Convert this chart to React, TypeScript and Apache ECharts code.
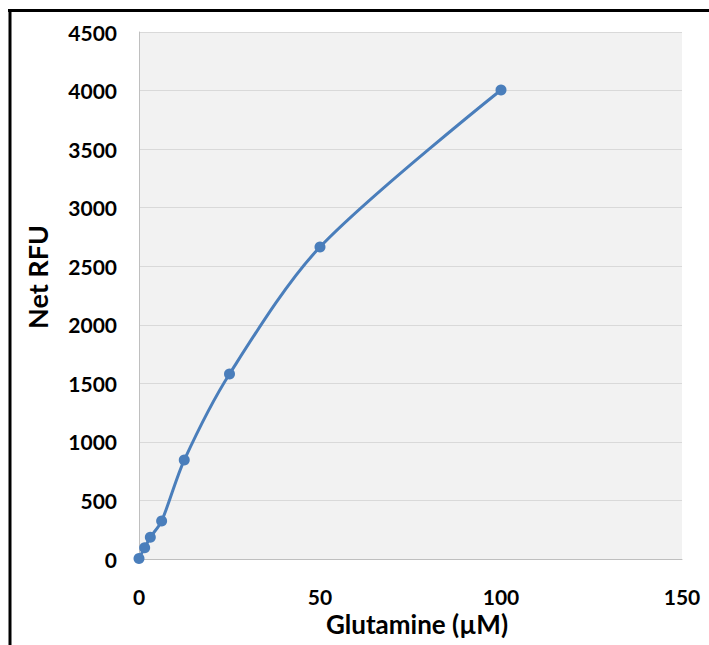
import React, { useEffect, useRef } from "react";
import * as echarts from "echarts";

const concentrations: number[] = [0, 1.5625, 3.125, 6.25, 12.5, 25, 50, 100];
const netRFU: number[] = [5, 96, 185, 324, 845, 1580, 2664, 4005];
const xTitle = "Glutamine (µM)";
const yTitle = "Net RFU";

export default function App() {
  const ref = useRef<HTMLDivElement>(null);
  useEffect(() => {
    if (!ref.current) return;
    const chart = echarts.init(ref.current, null, { renderer: "svg" });
    const font = "Lato, 'DejaVu Sans', sans-serif";
    chart.setOption({
      animation: false,
      backgroundColor: "#ffffff",
      grid: {
        left: 139,
        top: 32,
        right: 27,
        bottom: 86,
        show: true,
        backgroundColor: "#f2f2f2",
        borderWidth: 0,
      },
      xAxis: {
        type: "value",
        min: 0,
        max: 150,
        interval: 50,
        axisLine: { show: true, onZero: false, lineStyle: { color: "#bfbfbf", width: 1 } },
        axisTick: { show: false },
        splitLine: { show: false },
        axisLabel: {
          margin: 27,
          color: "#000",
          fontFamily: font,
          fontWeight: "bold",
          fontSize: 21,
          formatter: (v: number) => String(v),
        },
      },
      yAxis: {
        type: "value",
        min: 0,
        max: 4500,
        interval: 500,
        axisLine: { show: true, lineStyle: { color: "#bfbfbf", width: 1 } },
        axisTick: { show: false },
        splitLine: { show: true, lineStyle: { color: "#d9d9d9", width: 1 } },
        axisLabel: {
          margin: 22,
          color: "#000",
          fontFamily: font,
          fontWeight: "bold",
          fontSize: 21,
          formatter: (v: number) => String(v),
        },
      },
      graphic: [
        {
          type: "line",
          shape: { x1: 8, y1: 10.5, x2: 709, y2: 10.5 },
          style: { stroke: "#000", lineWidth: 3 },
        },
        {
          type: "line",
          shape: { x1: 10, y1: 9, x2: 10, y2: 645 },
          style: { stroke: "#000", lineWidth: 3 },
        },
        {
          type: "text",
          x: 417,
          y: 624,
          style: {
            text: xTitle,
            fontFamily: font,
            fontWeight: "bold",
            fontSize: 26,
            fill: "#000",
            align: "center",
            verticalAlign: "middle",
          },
        },
        {
          type: "text",
          x: 37,
          y: 277,
          rotation: Math.PI / 2,
          style: {
            text: yTitle,
            fontFamily: font,
            fontWeight: "bold",
            fontSize: 27,
            fill: "#000",
            align: "center",
            verticalAlign: "middle",
          },
        },
      ],
      series: [
        {
          type: "line",
          data: concentrations.map((c, i) => [c, netRFU[i]]),
          smooth: 0.3,
          symbol: "circle",
          symbolSize: 11,
          lineStyle: { color: "#4a7ebb", width: 3 },
          itemStyle: { color: "#4a7ebb" },
        },
      ],
    });
    return () => chart.dispose();
  }, []);
  return (
    <div
      ref={ref}
      style={{ position: "absolute", left: 0, top: 0, width: 709, height: 645 }}
    />
  );
}
